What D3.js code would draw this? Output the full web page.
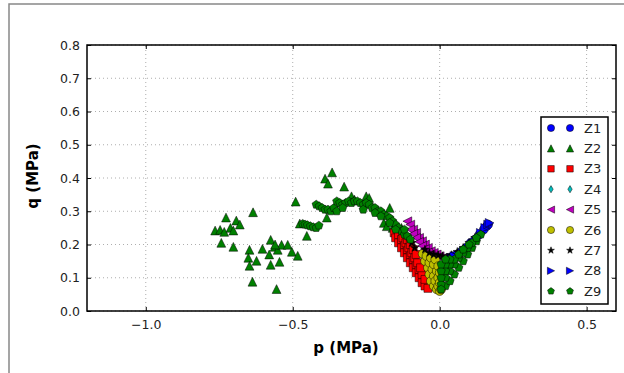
<!DOCTYPE html>
<html>
<head>
<meta charset="utf-8">
<script src="https://cdn.jsdelivr.net/npm/d3@7"></script>
<style>
  body { margin: 0; background: #fff; }
  svg { display: block; font-family: "DejaVu Sans", sans-serif; }
</style>
</head>
<body>
<svg id="chart" width="624" height="373"></svg>
<script>
// series values, [p, q] in MPa
const z1 = [[0.03,0.16],[0.045,0.165],[0.06,0.17],[0.075,0.18],[0.09,0.19],[0.105,0.205],[0.12,0.215],[0.135,0.23],[0.15,0.245],[0.16,0.255],[0.165,0.26]];
const z2 = [[-0.764,0.242],[-0.747,0.244],[-0.733,0.238],[-0.727,0.281],[-0.712,0.25],[-0.702,0.242],[-0.692,0.272],[-0.68,0.26],
  [-0.743,0.205],[-0.702,0.193],[-0.635,0.297],[-0.647,0.184],[-0.651,0.16],[-0.647,0.136],[-0.623,0.151],[-0.603,0.187],
  [-0.575,0.214],[-0.575,0.139],[-0.562,0.193],[-0.551,0.184],[-0.545,0.148],[-0.538,0.199],[-0.517,0.199],[-0.503,0.178],
  [-0.483,0.166],[-0.637,0.088],[-0.555,0.066],[-0.49,0.329],[-0.56,0.2],[-0.58,0.17],[-0.476,0.263],[-0.452,0.226],
  [-0.366,0.417],[-0.39,0.398],[-0.38,0.383],[-0.325,0.374],[-0.384,0.281],[-0.3,0.345],[-0.25,0.345],[-0.24,0.34],
  [-0.29,0.335],[-0.17,0.31],[-0.19,0.265],[-0.18,0.255],[-0.16,0.25],[-0.14,0.245],[-0.13,0.25],[-0.125,0.235]];
const z3 = [[-0.155,0.235],[-0.15,0.22],[-0.14,0.205],[-0.13,0.19],[-0.12,0.175],[-0.11,0.16],[-0.1,0.145],[-0.09,0.13],
  [-0.08,0.115],[-0.07,0.1],[-0.06,0.085],[-0.05,0.075],[-0.04,0.068],
  [-0.14,0.23],[-0.13,0.215],[-0.12,0.2],[-0.11,0.185],[-0.1,0.17],[-0.09,0.155],[-0.08,0.14],[-0.07,0.125],[-0.06,0.11],[-0.05,0.095],
  [-0.125,0.22],[-0.115,0.205],[-0.105,0.19],[-0.095,0.175],[-0.085,0.16],[-0.075,0.145],[-0.065,0.13],
  [-0.11,0.215],[-0.1,0.2],[-0.09,0.185],[-0.08,0.17]];
const z4 = [[-0.09,0.24],[-0.07,0.215],[-0.05,0.195]];
const z5 = [[-0.11,0.27],[-0.1,0.26],[-0.09,0.245],[-0.08,0.235],[-0.07,0.22],[-0.06,0.21],[-0.05,0.2],[-0.04,0.19],
  [-0.03,0.18],[-0.02,0.175],[-0.01,0.17],[0.0,0.165],[0.01,0.16],
  [-0.1,0.245],[-0.09,0.232],[-0.08,0.22],[-0.07,0.208],[-0.06,0.196],[-0.05,0.186],[-0.04,0.176],[-0.03,0.168],[-0.02,0.16]];
const z6 = [[-0.058,0.172],[-0.05,0.15],[-0.04,0.13],[-0.035,0.11],[-0.03,0.09],[-0.02,0.075],[-0.01,0.065],[0.0,0.06],
  [-0.045,0.165],[-0.035,0.145],[-0.025,0.125],[-0.02,0.105],[-0.015,0.09],[-0.005,0.075],[0.005,0.065],
  [-0.03,0.16],[-0.02,0.14],[-0.01,0.12],[-0.005,0.1],[0.0,0.085],[-0.015,0.155],[-0.005,0.135],[0.0,0.115]];
const z7 = [[-0.05,0.185],[-0.035,0.175],[-0.02,0.17],[-0.005,0.168],[0.01,0.165],[0.025,0.16],[0.04,0.168],[0.06,0.178],
  [0.08,0.19],[0.1,0.205],[0.12,0.22],[-0.095,0.205],[-0.085,0.19]];
const z8 = [[0.14,0.235],[0.155,0.25],[0.165,0.26],[0.17,0.265],[0.05,0.165]];
const z9 = [[-0.42,0.32],[-0.41,0.315],[-0.4,0.31],[-0.39,0.305],[-0.38,0.305],[-0.37,0.3],[-0.36,0.31],[-0.35,0.33],[-0.34,0.325],
  [-0.33,0.32],[-0.32,0.325],[-0.31,0.33],[-0.3,0.325],[-0.29,0.33],[-0.28,0.33],[-0.27,0.325],[-0.26,0.32],[-0.25,0.325],
  [-0.24,0.32],[-0.23,0.31],[-0.22,0.31],[-0.21,0.3],[-0.2,0.3],[-0.19,0.29],[-0.18,0.285],[-0.17,0.28],[-0.16,0.27],
  [-0.15,0.26],[-0.14,0.25],[-0.13,0.24],[-0.12,0.23],[-0.35,0.3],[-0.33,0.31],[-0.26,0.305],[-0.22,0.295],[-0.2,0.285],
  [-0.17,0.265],[-0.15,0.245],[-0.466,0.262],[-0.458,0.26],[-0.45,0.258],[-0.44,0.255],[-0.43,0.252],[-0.42,0.25],[-0.411,0.257],
  [-0.12,0.245],[-0.11,0.225],[-0.1,0.215],
  [0.02,0.075],[0.035,0.09],[0.05,0.11],[0.065,0.13],[0.08,0.15],[0.095,0.17],[0.11,0.19],[0.125,0.21],[0.14,0.23],
  [0.005,0.08],[0.02,0.1],[0.035,0.12],[0.05,0.14],[0.065,0.16],[0.08,0.175],[0.095,0.19],[0.11,0.205],[0.125,0.22],
  [0.005,0.1],[0.02,0.12],[0.035,0.14],[0.05,0.155],[0.065,0.17],[0.08,0.185],[0.1,0.2],
  [0.005,0.12],[0.02,0.14],[0.035,0.155],[0.005,0.14],[0.02,0.155],[0.005,0.065]];

const seriesNames = ['Z1','Z2','Z3','Z4','Z5','Z6','Z7','Z8','Z9'];
const seriesData = [z1, z2, z3, z4, z5, z6, z7, z8, z9];
const seriesColors = ['#0000ff','#008000','#ff0000','#00bfbf','#bf00bf','#bfbf00','#000000','#0000ff','#008000'];
const seriesMarkers = ['o','^','s','d','<','o','*','>','p'];
const xTicks = [-1.0, -0.5, 0.0, 0.5];
const yTicks = [0.0, 0.1, 0.2, 0.3, 0.4, 0.5, 0.6, 0.7, 0.8];

// marker shapes, centered on 0,0
function markerPath(m, r) {
  if (m === 'o') return d3.symbol(d3.symbolCircle, Math.PI * r * r)();
  if (m === 's') { let h = r * 0.9; return `M${-h},${-h}H${h}V${h}H${-h}Z`; }
  if (m === '^') return `M0,${-r}L${r},${r}L${-r},${r}Z`;
  if (m === '<') return `M${-r},0L${r},${-r}L${r},${r}Z`;
  if (m === '>') return `M${r},0L${-r},${-r}L${-r},${r}Z`;
  if (m === 'd') return `M0,${-r}L${r * 0.6},0L0,${r}L${-r * 0.6},0Z`;
  if (m === '*') {
    let pts = [];
    for (let i = 0; i < 10; i++) {
      let a = -Math.PI / 2 + i * Math.PI / 5, rr = i % 2 ? r * 0.4 : r;
      pts.push([rr * Math.cos(a), rr * Math.sin(a)]);
    }
    return 'M' + pts.map(p => p.join(',')).join('L') + 'Z';
  }
  if (m === 'p') {
    let pts = [];
    for (let i = 0; i < 5; i++) {
      let a = -Math.PI / 2 + i * 2 * Math.PI / 5;
      pts.push([r * Math.cos(a), r * Math.sin(a)]);
    }
    return 'M' + pts.map(p => p.join(',')).join('L') + 'Z';
  }
}

let svg = d3.select('#chart');
let margin = { left: 87, right: 8, top: 45, bottom: 62 };
let width = 624, height = 373;

// outer figure border
svg.append('rect')
  .attr('x', 9).attr('y', 4)
  .attr('width', 640).attr('height', 400)
  .attr('fill', 'none').attr('stroke', '#888').attr('stroke-width', 1.5);

let x = d3.scaleLinear().domain([-1.2, 0.6]).range([margin.left, width - margin.right]);
let y = d3.scaleLinear().domain([0, 0.8]).range([height - margin.bottom, margin.top]);

// grid
svg.append('g')
  .selectAll('line').data(xTicks).enter().append('line')
  .attr('x1', d => x(d)).attr('x2', d => x(d))
  .attr('y1', y(0)).attr('y2', y(0.8))
  .attr('stroke', '#999').attr('stroke-width', 0.8).attr('stroke-dasharray', '1,3');
svg.append('g')
  .selectAll('line').data(yTicks).enter().append('line')
  .attr('x1', x(-1.2)).attr('x2', x(0.6))
  .attr('y1', d => y(d)).attr('y2', d => y(d))
  .attr('stroke', '#999').attr('stroke-width', 0.8).attr('stroke-dasharray', '1,3');

// axes, ticks inward on all sides
let fmt = d => d3.format('.1f')(d).replace('-', '\u2212');
svg.append('g').attr('transform', `translate(0,${y(0)})`)
  .call(d3.axisBottom(x).tickValues(xTicks).tickFormat(fmt).tickSizeInner(-4).tickSizeOuter(0).tickPadding(9));
svg.append('g').attr('transform', `translate(${x(-1.2)},0)`)
  .call(d3.axisLeft(y).tickValues(yTicks).tickFormat(fmt).tickSizeInner(-4).tickSizeOuter(0).tickPadding(7));
svg.append('g').attr('transform', `translate(0,${y(0.8)})`)
  .call(d3.axisTop(x).tickValues(xTicks).tickFormat('').tickSizeInner(-4).tickSizeOuter(0));
svg.append('g').attr('transform', `translate(${x(0.6)},0)`)
  .call(d3.axisRight(y).tickValues(yTicks).tickFormat('').tickSizeInner(-4).tickSizeOuter(0));
svg.selectAll('.domain').remove();
svg.selectAll('.tick text').attr('font-size', 12.5).attr('fill', '#222').attr('font-family', 'DejaVu Sans');
svg.selectAll('.tick line').attr('stroke', '#000');

// series
let plot = svg.append('g');
seriesData.forEach((data, i) => {
  plot.append('g').selectAll('path').data(data).enter().append('path')
    .attr('d', markerPath(seriesMarkers[i], 4.4))
    .attr('transform', d => `translate(${x(d[0])},${y(d[1])})`)
    .attr('fill', seriesColors[i])
    .attr('stroke', '#000').attr('stroke-width', 0.5);
});

// plot frame
svg.append('rect')
  .attr('x', x(-1.2)).attr('y', y(0.8))
  .attr('width', x(0.6) - x(-1.2)).attr('height', y(0) - y(0.8))
  .attr('fill', 'none').attr('stroke', '#000').attr('stroke-width', 1.5);

// axis labels
svg.append('text')
  .attr('x', 346).attr('y', 353)
  .attr('text-anchor', 'middle')
  .attr('font-size', 15).attr('font-weight', 'bold')
  .text('p (MPa)');
svg.append('text')
  .attr('transform', 'translate(38,176) rotate(-90)')
  .attr('text-anchor', 'middle')
  .attr('font-size', 15).attr('font-weight', 'bold')
  .text('q (MPa)');

// legend
let legend = svg.append('g');
legend.append('rect')
  .attr('x', 541).attr('y', 117).attr('width', 67).attr('height', 187)
  .attr('fill', '#fff').attr('stroke', '#000').attr('stroke-width', 1.5);
seriesNames.forEach((name, i) => {
  let ly = 128 + i * 20.4;
  [551, 570].forEach(lx => {
    legend.append('path')
      .attr('d', markerPath(seriesMarkers[i], 3.6))
      .attr('transform', `translate(${lx},${ly})`)
      .attr('fill', seriesColors[i])
      .attr('stroke', '#000').attr('stroke-width', 0.5);
  });
  legend.append('text')
    .attr('x', 584).attr('y', ly)
    .attr('dy', '0.36em')
    .attr('font-size', 13).attr('fill', '#222')
    .text(name);
});
</script>
</body>
</html>
